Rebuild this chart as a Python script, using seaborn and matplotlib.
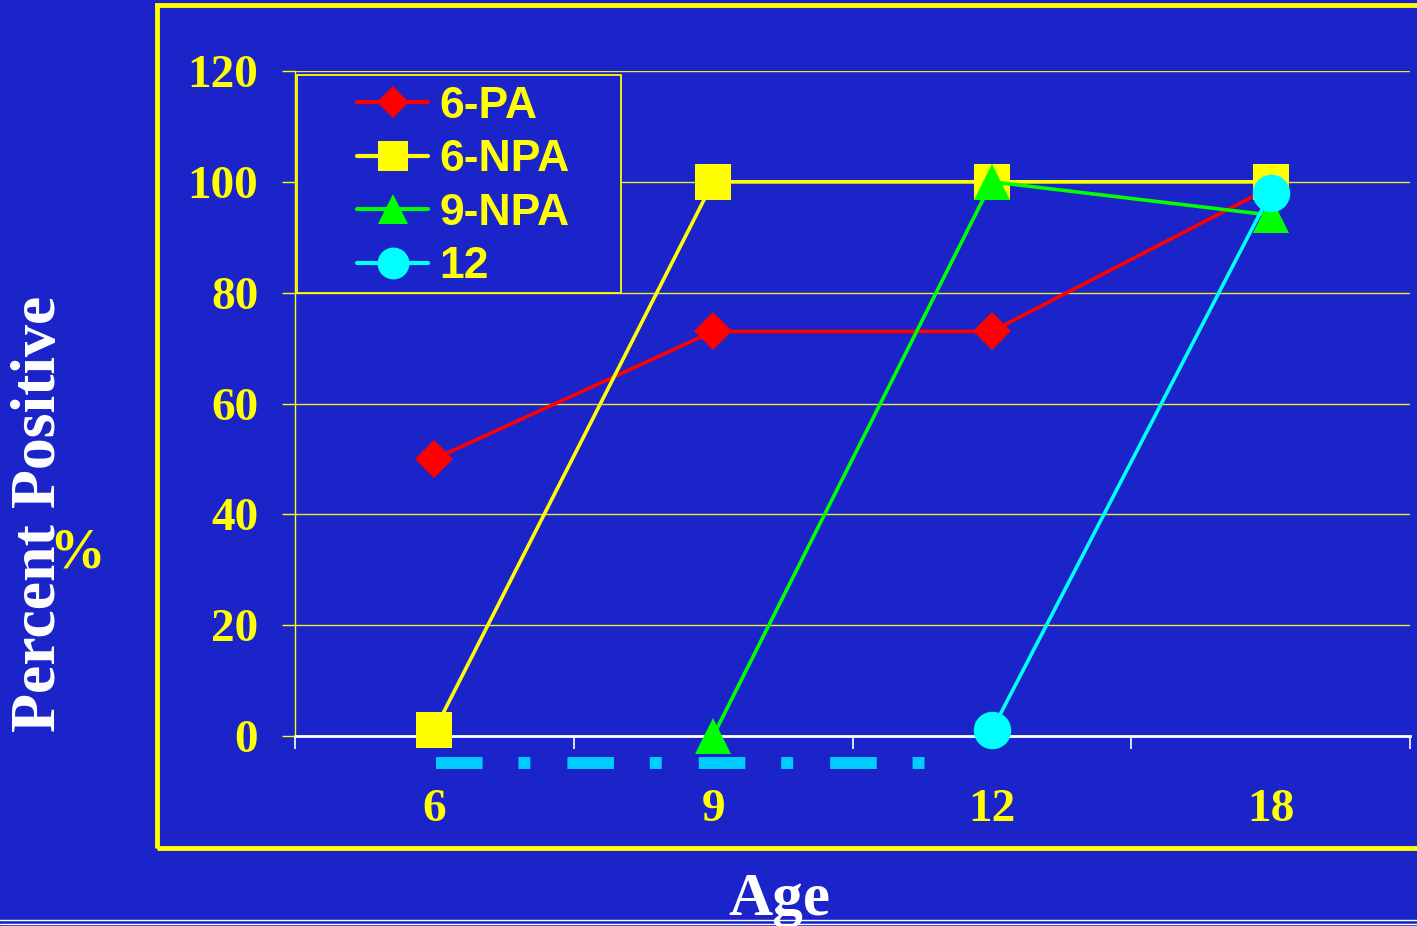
import matplotlib
matplotlib.use("Agg")
import matplotlib.pyplot as plt
from matplotlib.patches import Rectangle
from matplotlib.lines import Line2D
import seaborn as sns
import pandas as pd
import numpy as np

# Data
ages = ["6", "9", "12", "18"]
series_names = ["6-PA", "6-NPA", "9-NPA", "12"]
pa6 = [50, 73, 73, 99]
npa6 = [1, 100, 100, 100]
npa9 = [None, 0, 100, 94]
grp12 = [None, None, 1, 98]
y_ticks = [0, 20, 40, 60, 80, 100, 120]

colors = {"6-PA": "#ff0000", "6-NPA": "#ffff00", "9-NPA": "#00ff00", "12": "#00ffff"}
markers = {"6-PA": "D", "6-NPA": "s", "9-NPA": "^", "12": "o"}
msizes = {"6-PA": 19, "6-NPA": 26, "9-NPA": 26, "12": 27}

rows = []
for name, vals in zip(series_names, [pa6, npa6, npa9, grp12]):
    for i, v in enumerate(vals):
        if v is not None:
            rows.append({"pos": i, "age": ages[i], "series": name, "value": v})
df = pd.DataFrame(rows)

BG = "#1a24c8"
YEL = "#ffff00"

sns.set_theme(style="white")
plt.rcParams["font.family"] = ["Liberation Serif", "DejaVu Serif"]

W, H = 1417, 926
fig = plt.figure(figsize=(W / 100, H / 100), dpi=100, facecolor=BG)
ax = fig.add_axes([295 / W, (H - 736) / H, 1115 / W, 665 / H])
ax.set_facecolor(BG)

# Outer yellow frame and bottom rule
fig.patches.append(Rectangle((157 / W, (H - 848) / H), (W + 20 - 157) / W, (848 - 5) / H,
                             transform=fig.transFigure, fill=False, edgecolor=YEL,
                             linewidth=3.5, zorder=0))
for yy in (920, 924):
    fig.lines.append(Line2D([0, 1], [(H - yy) / H] * 2, transform=fig.transFigure,
                            color="white", linewidth=1.0))

for k, name in enumerate(series_names):
    sub = df[df["series"] == name]
    sns.lineplot(data=sub, x="pos", y="value", ax=ax, color=colors[name],
                 marker=markers[name], markersize=msizes[name], markeredgewidth=0,
                 linewidth=2.6, label=name, zorder=3 + k, clip_on=False)

ax.set_xlim(-0.5, len(ages) - 0.5)
ax.set_ylim(0, 120)

# Category axis: boundary ticks plus centred labels
ax.set_xticks(np.arange(-0.5, len(ages), 1.0))
ax.set_xticklabels([])
ax.set_xticks(np.arange(len(ages)), minor=True)
ax.set_xticklabels(ages, minor=True)
ax.tick_params(axis="x", which="major", direction="out", length=9, width=1.2,
               color="white", bottom=True)
ax.tick_params(axis="x", which="minor", length=0, pad=38, labelsize=34,
               labelcolor=YEL)
for lbl in ax.get_xticklabels(minor=True):
    lbl.set_fontweight("bold")

ax.set_yticks(y_ticks)
ax.set_yticklabels([str(t) for t in y_ticks])
ax.tick_params(axis="y", direction="out", length=9.5, width=1, color=YEL,
               left=True, pad=17, labelsize=34, labelcolor=YEL)
for lbl in ax.get_yticklabels():
    lbl.set_fontweight("bold")

ax.yaxis.grid(True, color="#e8e830", linewidth=1)
ax.xaxis.grid(False)
ax.set_axisbelow(True)
for s in ("top", "right"):
    ax.spines[s].set_visible(False)
ax.spines["left"].set_color(YEL)
ax.spines["left"].set_linewidth(1)
ax.spines["bottom"].set_color("white")
ax.spines["bottom"].set_linewidth(2)

ax.set_xlabel("")
ax.set_ylabel("")

# Dash-dot band beneath the axis
ax.plot([0.007, 1.767], [-4.9, -4.9], color="#00ccff", linewidth=8.6,
        dashes=(3.9, 3.0, 1.0, 3.1), solid_capstyle="butt",
        dash_capstyle="butt", clip_on=False, zorder=2)

# Axis titles
fig.text(40 / W, 1 - 514 / H, "Percent Positive", rotation=90, ha="center",
         va="center", color="white", fontsize=46, fontweight="bold")
fig.text(77 / W, 1 - 553 / H, "%", ha="center", va="center", color=YEL,
         fontsize=40, fontweight="bold")
fig.text(779 / W, 1 - 915 / H, "Age", ha="center", va="baseline", color="white",
         fontsize=44, fontweight="bold")

# Legend: entries without frame, box drawn separately
leg = ax.legend(loc="upper left", bbox_to_anchor=((357 - 295) / 1115, (736 - 86) / 665),
                borderaxespad=0, borderpad=0, frameon=False,
                handlelength=1.6, handletextpad=0.25, labelspacing=0.28,
                prop={"family": "Liberation Sans", "weight": "bold", "size": 32})
for txt in leg.get_texts():
    txt.set_color(YEL)
for h, name in zip(leg.legend_handles, series_names):
    h.set_markersize(msizes[name] * 0.85)
    h.set_linewidth(3)
leg.set_zorder(10)
ax.add_patch(Rectangle(((297 - 295) / 1115, (736 - 293) / 665), (621 - 297) / 1115,
                       (293 - 75) / 665, transform=ax.transAxes, facecolor=BG,
                       edgecolor=YEL, linewidth=1.3, zorder=9, clip_on=False))

fig.savefig("out.png", dpi=100, facecolor=BG)
